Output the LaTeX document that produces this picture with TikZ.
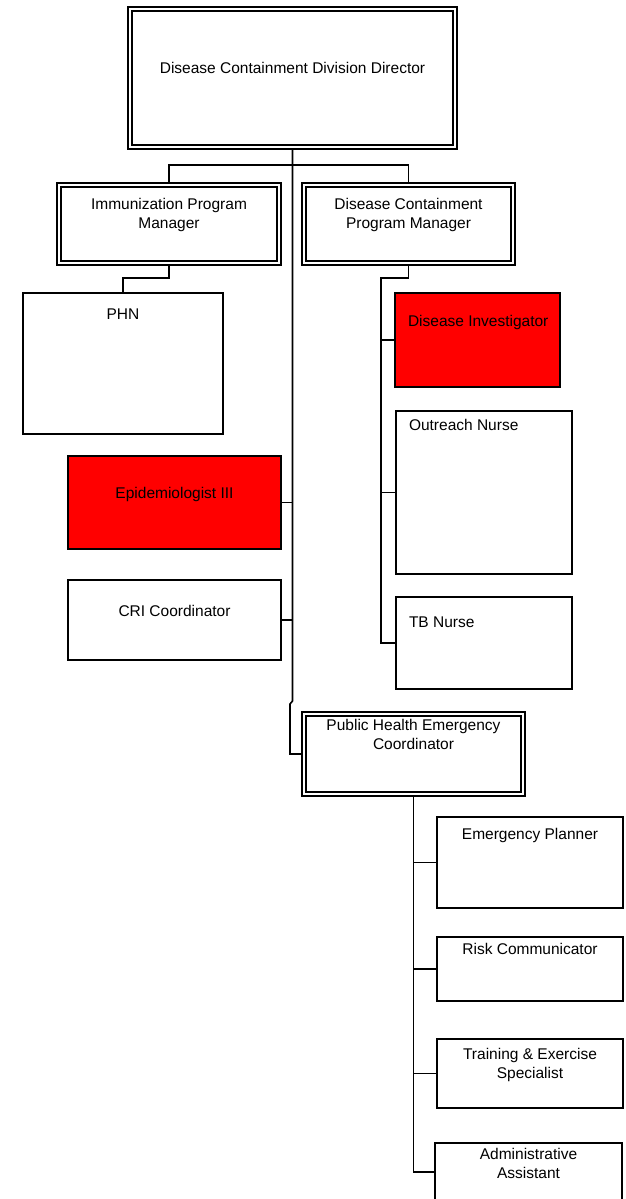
\documentclass[tikz,border=0pt]{standalone}
\usepackage{fontspec}
\setmainfont{Liberation Sans}
\usetikzlibrary{backgrounds}
\newcommand\orgtxt[4]{\parbox[c][#1][t]{#2}{\vspace*{#3}#4\par}}
\begin{document}
\begin{tikzpicture}[x=1pt,y=-1pt,
  box/.style={draw=black, line width=1.6pt, fill=white, inner sep=0pt,
    font=\fontsize{15.5}{19}\selectfont},
  dbox/.style={box, line width=1.4pt, double=white, double distance=2.4pt},
  redbox/.style={box, fill=red},
  link/.style={draw=black, line width=1.6pt}]
\useasboundingbox (0,0) rectangle (625,1199);

% boxes
\node[dbox, minimum width=325pt, minimum height=138pt] (dir) at (292.5,78)
  {\orgtxt{138pt}{325pt}{53pt}{\centering Disease Containment Division Director}};
\node[dbox, minimum width=220pt, minimum height=78pt] (imm) at (169,224)
  {\orgtxt{78pt}{220pt}{13pt}{\centering Immunization Program\\Manager}};
\node[dbox, minimum width=209pt, minimum height=78pt] (dcpm) at (408.5,224)
  {\orgtxt{78pt}{209pt}{13pt}{\centering Disease Containment\\Program Manager}};
\node[box, minimum width=200pt, minimum height=141pt] (phn) at (123,363.5)
  {\orgtxt{141pt}{200pt}{16pt}{\centering PHN}};
\node[redbox, minimum width=165pt, minimum height=94pt] (disinv) at (477.5,340)
  {\orgtxt{94pt}{165pt}{22pt}{\raggedright\hspace*{13pt}Disease Investigator}};
\node[box, minimum width=176pt, minimum height=163pt] (outreach) at (484,492.5)
  {\orgtxt{163pt}{176pt}{8pt}{\raggedright\hspace*{13pt}Outreach Nurse}};
\node[box, minimum width=176pt, minimum height=92pt] (tb) at (484,643)
  {\orgtxt{92pt}{176pt}{20pt}{\raggedright\hspace*{13pt}TB Nurse}};
\node[redbox, minimum width=213pt, minimum height=93pt] (epi) at (174.5,502.5)
  {\orgtxt{93pt}{213pt}{31pt}{\centering Epidemiologist III}};
\node[box, minimum width=213pt, minimum height=80pt] (cri) at (174.5,620)
  {\orgtxt{80pt}{213pt}{25pt}{\centering CRI Coordinator}};
\node[dbox, minimum width=219pt, minimum height=80pt] (phec) at (413.5,754)
  {\orgtxt{80pt}{219pt}{5pt}{\centering Public Health Emergency\\Coordinator}};
\node[box, minimum width=186pt, minimum height=91pt] (empl) at (530,862.5)
  {\orgtxt{91pt}{186pt}{11pt}{\centering Emergency Planner}};
\node[box, minimum width=186pt, minimum height=64pt] (risk) at (530,969)
  {\orgtxt{64pt}{186pt}{6pt}{\centering Risk Communicator}};
\node[box, minimum width=186pt, minimum height=69pt] (train) at (530,1073.5)
  {\orgtxt{69pt}{186pt}{9pt}{\centering Training \& Exercise\\Specialist}};
\node[box, minimum width=187pt, minimum height=58pt] (admin) at (528.5,1172)
  {\orgtxt{58pt}{187pt}{5pt}{\centering Administrative\\Assistant}};

% connectors
\begin{scope}[on background layer]
\coordinate (bar) at (292.5,165);
\coordinate (j1) at (292.5,701);
\coordinate (j2) at (290,704);
\coordinate (pj) at (123,278);
\coordinate (dv) at (381,278);
\draw[link] (dir.south) -- (j1) -- (j2) |- (phec.west);
\draw[link] (imm.north) |- (bar) -| (dcpm.north);
\draw[link] (epi.east) -- (epi.east -| dir.south);
\draw[link] (cri.east) -- (cri.east -| dir.south);
\draw[link] (imm.south) |- (pj) -- (phn.north);
\draw[link] (dcpm.south) |- (dv) |- (tb.west);
\draw[link] (disinv.west) -- (disinv.west -| dv);
\draw[link] (outreach.west) -- (outreach.west -| dv);
\draw[link] (phec.south) |- (admin.west);
\draw[link] (empl.west) -- (empl.west -| phec.south);
\draw[link] (risk.west) -- (risk.west -| phec.south);
\draw[link] (train.west) -- (train.west -| phec.south);
\end{scope}
\end{tikzpicture}
\end{document}
